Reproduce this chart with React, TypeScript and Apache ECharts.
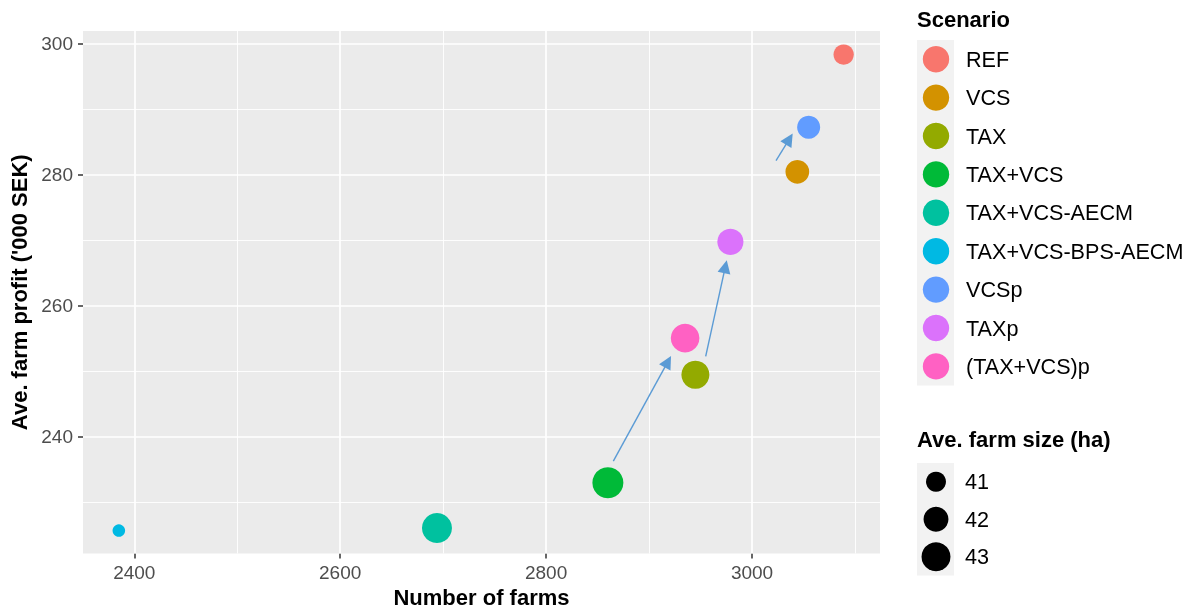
import React, { useEffect, useRef } from 'react';
import * as echarts from 'echarts';

// ---- data ----
const scenarios = ['REF', 'VCS', 'TAX', 'TAX+VCS', 'TAX+VCS-AECM', 'TAX+VCS-BPS-AECM', 'VCSp', 'TAXp', '(TAX+VCS)p'];
const scenarioColors = ['#F8766D', '#D39200', '#93AA00', '#00BA38', '#00C19F', '#00B9E3', '#619CFF', '#DB72FB', '#FF61C3'];
const numFarms = [3089, 3044, 2945, 2860, 2694, 2385, 3055, 2979, 2935];
const avgProfit = [298.3, 280.4, 249.4, 232.9, 226.0, 225.6, 287.2, 269.7, 255.0];
const avgFarmSize = [41.05, 41.74, 42.75, 43.55, 43.27, 39.9, 41.6, 42.3, 42.9];

// annotation arrows (from -> to), in data units
const arrowFrom = [[2865.3, 236.2], [2955.0, 252.2], [3023.3, 282.1]];
const arrowTo = [[2918.3, 251.4], [2974.1, 265.9], [3036.2, 285.4]];

const xMajor = [2400, 2600, 2800, 3000];
const xMinor = [2500, 2700, 2900, 3100];
const yMajor = [240, 260, 280, 300];
const yMinor = [230, 250, 270, 290];
const sizeBreaks = [41, 42, 43];

const xRange = [2350.2, 3124.3];
const yRange = [222.1, 301.9];

const FONT = '"Liberation Sans", Arial, Helvetica, sans-serif';
const diam = (s: number) => Math.sqrt(Math.max(0, 400 + 220 * (s - 41)));

export default function App() {
  const ref = useRef<HTMLDivElement>(null);
  useEffect(() => {
    const chart = echarts.init(ref.current!, null, { renderer: 'svg' });

    const gridLines = [
      ...xMajor.map((v) => ({ xAxis: v, lineStyle: { color: '#FFFFFF', width: 1.7, type: 'solid' } })),
      ...xMinor.map((v) => ({ xAxis: v, lineStyle: { color: '#FFFFFF', width: 0.9, type: 'solid' } })),
      ...yMajor.map((v) => ({ yAxis: v, lineStyle: { color: '#FFFFFF', width: 1.7, type: 'solid' } })),
      ...yMinor.map((v) => ({ yAxis: v, lineStyle: { color: '#FFFFFF', width: 0.9, type: 'solid' } })),
    ];

    const legendX = 917;
    const keyCx = 936;
    const scenTop = 40;
    const scenStep = 38.4;
    const sizeTop = 463;
    const sizeStep = 37.5;

    const graphics: any[] = [
      { type: 'text', left: legendX, top: 8, style: { text: 'Scenario', font: `bold 22px ${FONT}`, fill: '#000' } },
      { type: 'rect', shape: { x: legendX, y: scenTop, width: 37, height: scenStep * scenarios.length }, style: { fill: '#F2F2F2' }, z: 10 },
      ...scenarios.flatMap((s, i) => [
        { type: 'circle', shape: { cx: keyCx, cy: scenTop + scenStep * (i + 0.5), r: 13.2 }, style: { fill: scenarioColors[i] }, z: 11 },
        { type: 'text', x: 966, y: scenTop + scenStep * (i + 0.5), style: { text: s, font: `21.6px ${FONT}`, fill: '#000', verticalAlign: 'middle', align: 'left' }, z: 11 },
      ]),
      { type: 'text', left: legendX, top: 428, style: { text: 'Ave. farm size (ha)', font: `bold 22px ${FONT}`, fill: '#000' } },
      { type: 'rect', shape: { x: legendX, y: sizeTop, width: 37, height: sizeStep * sizeBreaks.length }, style: { fill: '#F2F2F2' }, z: 10 },
      ...sizeBreaks.flatMap((b, i) => [
        { type: 'circle', shape: { cx: keyCx, cy: sizeTop + sizeStep * (i + 0.5), r: diam(b) / 2 }, style: { fill: '#000' }, z: 11 },
        { type: 'text', x: 965, y: sizeTop + sizeStep * (i + 0.5), style: { text: String(b), font: `21.6px ${FONT}`, fill: '#000', verticalAlign: 'middle', align: 'left' }, z: 11 },
      ]),
    ];

    chart.setOption({
      animation: false,
      grid: { left: 83, right: 315, top: 31, bottom: 56.5, show: true, backgroundColor: '#EBEBEB', borderWidth: 0, outerBoundsMode: 'none', containLabel: false },
      xAxis: {
        type: 'value', min: xRange[0], max: xRange[1],
        axisLine: { show: false },
        axisTick: { show: true, length: 5, lineStyle: { color: '#333333', width: 1.5 }, customValues: xMajor },
        axisLabel: { customValues: xMajor, color: '#4D4D4D', fontSize: 19, margin: 9, fontFamily: FONT, formatter: (v: number) => String(v) },
        splitLine: { show: false },
        name: 'Number of farms', nameLocation: 'middle', nameGap: 32,
        nameTextStyle: { fontWeight: 'bold', fontSize: 22, color: '#000', fontFamily: FONT },
      },
      yAxis: {
        type: 'value', min: yRange[0], max: yRange[1],
        axisLine: { show: false },
        axisTick: { show: true, length: 5, lineStyle: { color: '#333333', width: 1.5 }, customValues: yMajor },
        axisLabel: { customValues: yMajor, color: '#4D4D4D', fontSize: 19, margin: 10, fontFamily: FONT, formatter: (v: number) => String(v) },
        splitLine: { show: false },
        name: "Ave. farm profit ('000 SEK)", nameLocation: 'middle', nameGap: 49, nameRotate: 90,
        nameTextStyle: { fontWeight: 'bold', fontSize: 22, color: '#000', fontFamily: FONT },
      },
      graphic: graphics,
      series: [
        {
          type: 'line', data: [], z: 1, silent: true,
          markLine: { z: 1, silent: true, symbol: ['none', 'none'], label: { show: false }, data: gridLines, emphasis: { disabled: true } },
        },
        {
          type: 'scatter', z: 3,
          data: scenarios.map((n, i) => ({ name: n, value: [numFarms[i], avgProfit[i], avgFarmSize[i]], itemStyle: { color: scenarioColors[i], opacity: 1 } })),
          symbolSize: (v: number[]) => diam(v[2]),
        },
        {
          type: 'lines', coordinateSystem: 'cartesian2d', z: 4, silent: true,
          symbol: ['none', 'triangle'], symbolSize: 13,
          lineStyle: { color: '#5B9BD5', width: 1.4, opacity: 1, curveness: 0 },
          itemStyle: { color: '#5B9BD5' },
          data: arrowFrom.map((f, i) => ({ coords: [f, arrowTo[i]] })),
        },
      ],
    });
    return () => chart.dispose();
  }, []);
  return <div ref={ref} style={{ position: 'fixed', left: 0, top: 0, width: 1195, height: 610 }} />;
}
